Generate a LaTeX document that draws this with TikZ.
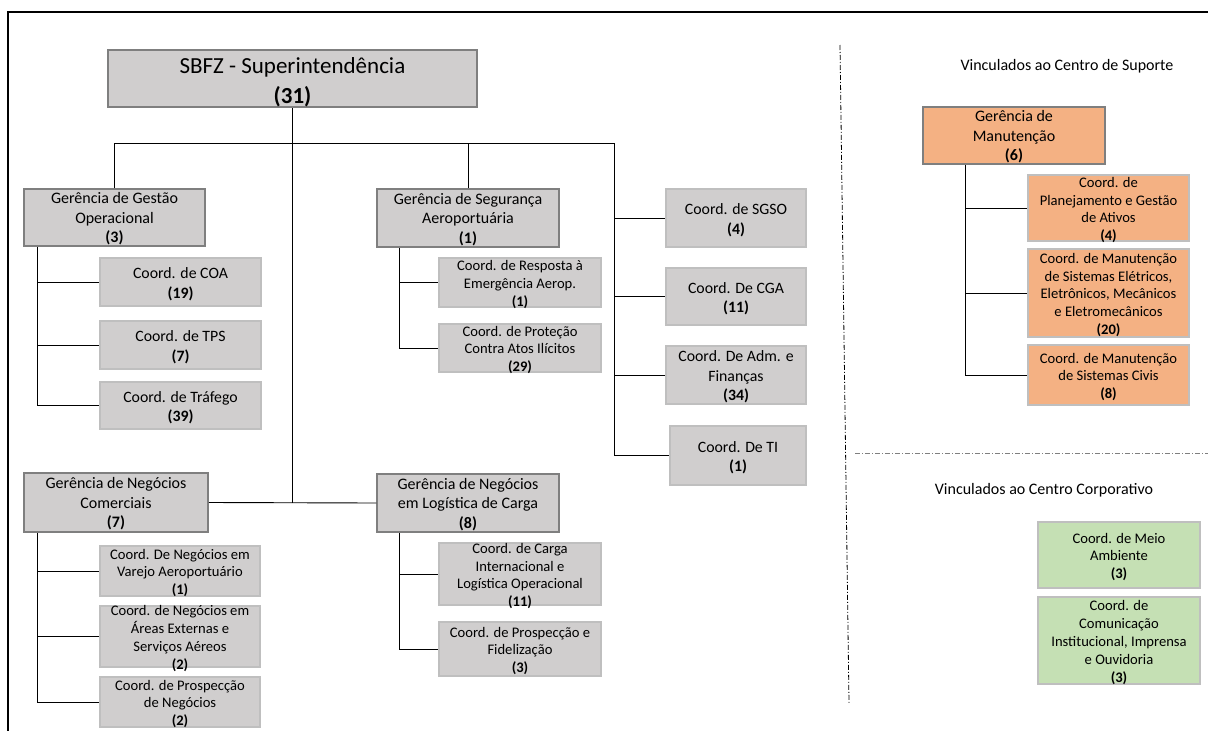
\documentclass[tikz,border=0pt]{standalone}
\usepackage{fontspec}
\setmainfont{Carlito}
\definecolor{boxgray}{HTML}{D0CECE}
\definecolor{edgedark}{HTML}{7F7F7F}
\definecolor{edgelight}{HTML}{BFBFBF}
\definecolor{boxorange}{HTML}{F4B183}
\definecolor{boxgreen}{HTML}{C5E0B4}
\newcommand{\boxlines}[2][-6pt]{\smash{\raisebox{#1}{\begin{tabular}{@{}c@{}}#2\end{tabular}}}}
\tikzset{
  sz/.style 2 args={minimum width=#1, minimum height=#2},
  unit/.style={draw=edgelight, line width=1.2pt, fill=boxgray, inner sep=0pt, font=\fontsize{14.6}{17.8}\selectfont},
  unitbig/.style={unit, font=\fontsize{15.8}{19.5}\selectfont},
  head/.style={unit, draw=edgedark, line width=1.5pt, font=\fontsize{16}{19.5}\selectfont},
  link/.style={line width=0.9pt},
  centro/.style={font=\fontsize{16}{19}\selectfont},
  divider/.style={line width=0.8pt, dash pattern=on 5pt off 2pt on 1pt off 2pt}
}
\begin{document}
\begin{tikzpicture}[x=1pt,y=-1pt]
\useasboundingbox (0,0) rectangle (1208,731);
\draw[line width=2pt] (8,731) -- (8,12) -- (1208,12);

% superintendencia
\node[head, sz={369}{57}, font=\fontsize{23}{30}\selectfont] (sbfz) at (292.5,78.5) {\boxlines[-10pt]{SBFZ - Superintendência\\\textbf{(31)}}};

% gerencias
\node[head, sz={181}{57}] (gop) at (114.5,217.5) {\boxlines{Gerência de Gestão\\Operacional\\\textbf{(3)}}};
\node[head, sz={182}{58}] (seg) at (468,218) {\boxlines{Gerência de Segurança\\Aeroportuária\\\textbf{(1)}}};
\node[head, sz={184}{59}] (gnc) at (116,502.5) {\boxlines{Gerência de Negócios\\Comerciais\\\textbf{(7)}}};
\node[head, sz={182}{58}] (glc) at (468,503) {\boxlines{Gerência de Negócios\\em Logística de Carga\\\textbf{(8)}}};

% coordenacoes
\node[unitbig, sz={161}{48}] (coa) at (180.5,282) {\boxlines{Coord. de COA\\\textbf{(19)}}};
\node[unitbig, sz={161}{48}] (tps) at (180.5,345) {\boxlines{Coord. de TPS\\\textbf{(7)}}};
\node[unitbig, sz={161}{47}] (traf) at (180.5,405.5) {\boxlines{Coord. de Tráfego\\\textbf{(39)}}};
\node[unit, sz={162}{49}] (resp) at (520,282.5) {\boxlines{Coord. de Resposta à\\Emergência Aerop.\\\textbf{(1)}}};
\node[unit, sz={162}{48}] (prot) at (520,348) {\boxlines{Coord. de Proteção\\Contra Atos Ilícitos\\\textbf{(29)}}};
\node[unitbig, sz={140}{58}] (sgso) at (736,218) {\boxlines{Coord. de SGSO\\\textbf{(4)}}};
\node[unitbig, sz={140}{57}] (cga) at (736,296.5) {\boxlines{Coord. De CGA\\\textbf{(11)}}};
\node[unitbig, sz={140}{58}] (adm) at (736,375) {\boxlines{Coord. De Adm. e\\Finanças\\\textbf{(34)}}};
\node[unitbig, sz={136}{59}] (ti) at (738,455.5) {\boxlines{Coord. De TI\\\textbf{(1)}}};
\node[unit, sz={160}{50}] (varejo) at (180,571) {\boxlines{Coord. De Negócios em\\Varejo Aeroportuário\\\textbf{(1)}}};
\node[unit, sz={160}{61}] (areas) at (180,636.5) {\boxlines{Coord. de Negócios em\\Áreas Externas e\\Serviços Aéreos\\\textbf{(2)}}};
\node[unit, sz={160}{50}] (prosp) at (180,702) {\boxlines{Coord. de Prospecção\\de Negócios\\\textbf{(2)}}};
\node[unit, sz={162}{62}] (carga) at (520,574) {\boxlines{Coord. de Carga\\Internacional e\\Logística Operacional\\\textbf{(11)}}};
\node[unit, sz={162}{54}] (fidel) at (520,649) {\boxlines{Coord. de Prospecção e\\Fidelização\\\textbf{(3)}}};

% ligacoes
\coordinate (rbus) at (614,143);
\draw[link] (sbfz.south) -- (sbfz.south |- gnc.east);
\draw[link] (gnc.east) -- (glc.west);
\draw[link] (gop.north) |- (rbus) -- (rbus |- ti.west);
\draw[link] (seg.north) -- (seg.north |- rbus);
\foreach \n in {sgso,cga,adm,ti} \draw[link] (rbus |- \n.west) -- (\n.west);
\coordinate (gop-s) at ([xshift=14pt]gop.south west);
\coordinate (seg-s) at ([xshift=23pt]seg.south west);
\coordinate (gnc-s) at ([xshift=14pt]gnc.south west);
\coordinate (glc-s) at ([xshift=23pt]glc.south west);
\draw[link] (gop-s) |- (traf.west);
\foreach \n in {coa,tps} \draw[link] (gop-s |- \n.west) -- (\n.west);
\draw[link] (seg-s) |- (prot.west);
\draw[link] (seg-s |- resp.west) -- (resp.west);
\draw[link] (gnc-s) |- (prosp.west);
\foreach \n in {varejo,areas} \draw[link] (gnc-s |- \n.west) -- (\n.west);
\draw[link] (glc-s) |- (fidel.west);
\draw[link] (glc-s |- carga.west) -- (carga.west);

% centros
\draw[divider] (840,45) -- (849,703);
\draw[divider, draw=edgedark] (855,453) -- (1208,453);
\node[centro] (sup) at (1067,66) {Vinculados ao Centro de Suporte};
\node[centro] (corp) at (1044,490) {Vinculados ao Centro Corporativo};

\node[head, fill=boxorange, sz={182}{57}] (man) at (1014,135.5) {\boxlines{Gerência de\\Manutenção\\\textbf{(6)}}};
\node[unit, fill=boxorange, sz={161}{66}] (plan) at (1108.5,208) {\boxlines{Coord. de\\Planejamento e Gestão\\de Ativos\\\textbf{(4)}}};
\node[unit, fill=boxorange, sz={161}{88}] (elet) at (1108.5,293) {\boxlines{Coord. de Manutenção\\de Sistemas Elétricos,\\Eletrônicos, Mecânicos\\e Eletromecânicos\\\textbf{(20)}}};
\node[unit, fill=boxorange, sz={161}{60}] (civ) at (1108.5,375) {\boxlines{Coord. de Manutenção\\de Sistemas Civis\\\textbf{(8)}}};
\coordinate (man-s) at ([xshift=43pt]man.south west);
\draw[link] (man-s) |- (civ.west);
\foreach \n in {plan,elet} \draw[link] (man-s |- \n.west) -- (\n.west);

\node[unit, fill=boxgreen, sz={162}{66}] (meio) at (1119,555) {\boxlines{Coord. de Meio\\Ambiente\\\textbf{(3)}}};
\node[unit, fill=boxgreen, sz={162}{87}] (com) at (1119,640.5) {\boxlines{Coord. de\\Comunicação\\Institucional, Imprensa\\e Ouvidoria\\\textbf{(3)}}};
\end{tikzpicture}
\end{document}
